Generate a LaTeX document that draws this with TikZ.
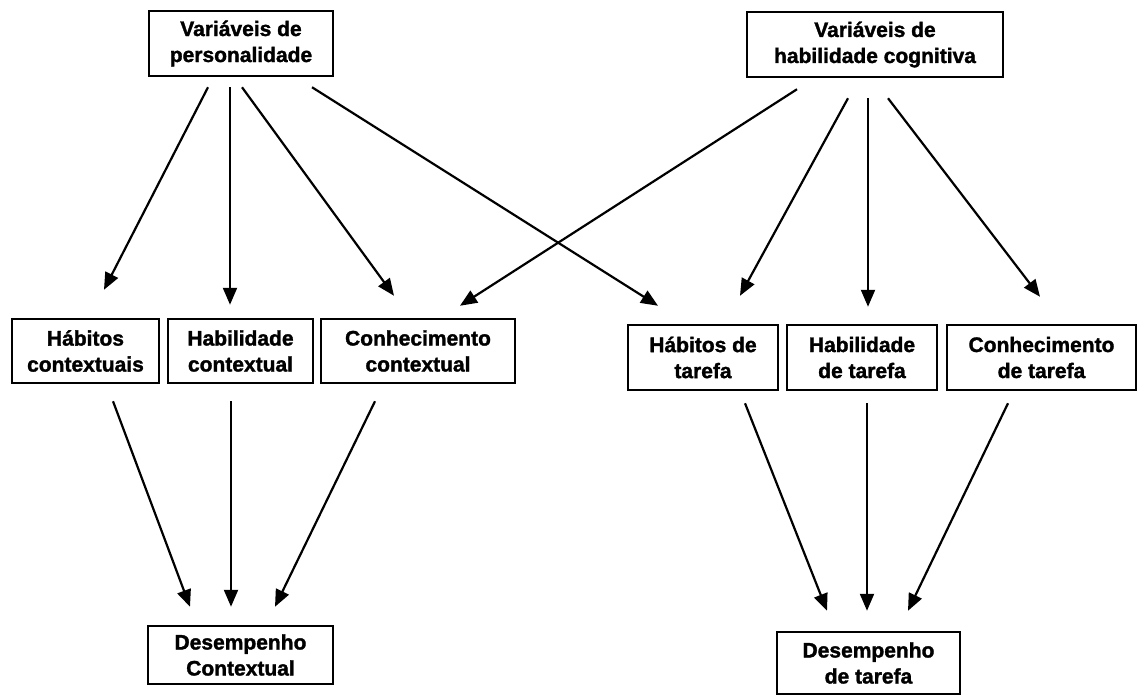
\documentclass[tikz,border=0pt]{standalone}
\usepackage{fontspec}
\setmainfont{Liberation Sans}[BoldFeatures={FakeBold=1.5}]
\usetikzlibrary{arrows.meta,calc}

\begin{document}
\begin{tikzpicture}[x=1pt,y=-1pt,
  box/.style={draw=black, line width=2.5pt, fill=white, align=center,
    inner sep=0pt, minimum height=65pt,
    font=\fontsize{21}{26}\selectfont\bfseries},
  arr/.style={line width=2.2pt, -{Triangle[length=17pt,width=14pt]}}]
\useasboundingbox (0,0) rectangle (1140,695);

% top level: predictor variables
\node[box, minimum width=184pt] (pers) at (241,43.5) {Variáveis de\\personalidade};
\node[box, minimum width=256pt] (cog)  at (875,44.5) {Variáveis de\\habilidade cognitiva};

% middle level: contextual mediators
\node[box, minimum width=147pt, minimum height=64pt] (hc) at (85.5,351) {Hábitos\\contextuais};
\node[box, minimum width=145pt, minimum height=64pt] (ac) at (240.5,351) {Habilidade\\contextual};
\node[box, minimum width=194pt, minimum height=64pt] (cc) at (418,351) {Conhecimento\\contextual};

% middle level: task mediators
\node[box, minimum width=150pt] (ht) at (703,357.5) {Hábitos de\\tarefa};
\node[box, minimum width=150pt] (at) at (862,357.5) {Habilidade\\de tarefa};
\node[box, minimum width=189pt] (ct) at (1041.5,357.5) {Conhecimento\\de tarefa};

% bottom level: performance outcomes
\node[box, minimum width=185pt, minimum height=58pt] (dc) at (240.5,655) {Desempenho\\Contextual};
\node[box, minimum width=183pt, minimum height=62pt] (dt) at (868.5,663) {Desempenho\\de tarefa};

% personality -> mediators
\draw[arr] ($(pers.south)+(-33,10)$) -- ($(hc.north)+(18.5,-28)$);
\draw[arr] ($(pers.south)+(-11,10)$) -- ($(ac.north)+(-10.5,-13)$);
\draw[arr] ($(pers.south)+(1,10)$)   -- ($(cc.north)+(-24,-22)$);
\draw[arr] ($(pers.south)+(71,10)$)  -- ($(ht.north)+(-45,-18)$);

% cognitive ability -> mediators
\draw[arr] ($(cog.south)+(-78,11)$) -- ($(cc.north)+(42,-12)$);
\draw[arr] ($(cog.south)+(-27,20)$) -- ($(ht.north)+(37,-28)$);
\draw[arr] ($(cog.south)+(-7,20)$)  -- ($(at.north)+(6,-17)$);
\draw[arr] ($(cog.south)+(13,20)$)  -- ($(ct.north)+(-1.5,-27)$);

% contextual mediators -> contextual performance
\draw[arr] ($(hc.south)+(27.5,17)$) -- ($(dc.north)+(-50.5,-18)$);
\draw[arr] ($(ac.south)+(-9.5,17)$) -- ($(dc.north)+(-9.5,-18)$);
\draw[arr] ($(cc.south)+(-43,17)$)  -- ($(dc.north)+(34.5,-18)$);

% task mediators -> task performance
\draw[arr] ($(ht.south)+(42,12)$)    -- ($(dt.north)+(-41.5,-20)$);
\draw[arr] ($(at.south)+(5,12)$)     -- ($(dt.north)+(-1.5,-20)$);
\draw[arr] ($(ct.south)+(-33.5,12)$) -- ($(dt.north)+(39.5,-20)$);
\end{tikzpicture}
\end{document}
